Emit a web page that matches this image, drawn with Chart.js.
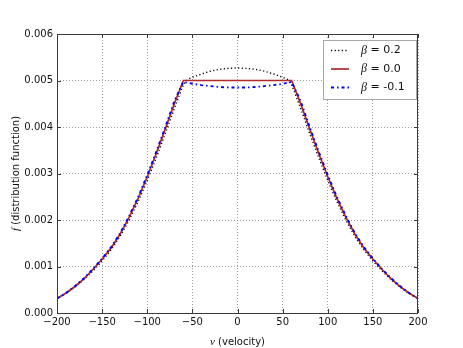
<!DOCTYPE html>
<html><head><meta charset="utf-8">
<script src="https://cdn.jsdelivr.net/npm/chart.js@4/dist/chart.umd.min.js"></script>
<style>html,body{margin:0;padding:0;background:#fff;}canvas{display:block;}</style>
</head><body>
<canvas id="c" width="463" height="348"></canvas>
<script>
// ---- data ----
const velocity = [-200,-190,-180,-170,-160,-150,-140,-130,-120,-110,-100,-90,-80,-70,-60,-55,
  -50,-40,-30,-20,-10,0,10,20,30,40,50,
  55,60,70,80,90,100,110,120,130,140,150,160,170,180,190,200];
const fBeta02 = [0.00031,0.00042,0.00056,0.00072,0.00091,0.00112,0.00136,0.00165,0.00200,0.00240,0.00285,0.00334,0.00386,0.00440,0.00491,0.00503,
  0.00507,0.00514,0.00520,0.00524,0.00526,0.00527,0.00526,0.00524,0.00520,0.00514,0.00507,
  0.00503,0.00491,0.00440,0.00386,0.00334,0.00285,0.00240,0.00200,0.00165,0.00136,0.00112,0.00091,0.00072,0.00056,0.00042,0.00031];
const fBeta00 = [0.00031,0.00043,0.00057,0.00074,0.00094,0.00116,0.00140,0.00170,0.00206,0.00247,0.00293,0.00343,0.00396,0.00450,0.00500,0.00500,
  0.00500,0.00500,0.00500,0.00500,0.00500,0.00500,0.00500,0.00500,0.00500,0.00500,0.00500,
  0.00500,0.00500,0.00450,0.00396,0.00343,0.00293,0.00247,0.00206,0.00170,0.00140,0.00116,0.00094,0.00074,0.00057,0.00043,0.00031];
const fBetaM01 = [0.00031,0.00043,0.00058,0.00075,0.00095,0.00117,0.00142,0.00172,0.00209,0.00250,0.00297,0.00347,0.00400,0.00456,0.00497,0.00495,
  0.00493,0.00490,0.00488,0.00486,0.00485,0.00485,0.00485,0.00486,0.00488,0.00490,0.00493,
  0.00495,0.00497,0.00456,0.00400,0.00347,0.00297,0.00250,0.00209,0.00172,0.00142,0.00117,0.00095,0.00075,0.00058,0.00043,0.00031];
const betaSymbol = 'β';
const betaValues = ['0.2','0.0','-0.1'];
const xTickValues = [-200,-150,-100,-50,0,50,100,150,200];
const yTickValues = [0,0.001,0.002,0.003,0.004,0.005,0.006];
const xTitleVar = 'v', xTitleRest = ' (velocity)';
const yTitleVar = 'f', yTitleRest = ' (distribution function)';

const pts = ys => velocity.map((v,i)=>({x:v,y:ys[i]}));

const framePlugin = {
  id:'frame',
  afterDatasetsDraw(chart){
    const {ctx, chartArea:a, scales:{x,y}} = chart;
    ctx.save();
    ctx.strokeStyle='#3a3a3a'; ctx.lineWidth=1; ctx.setLineDash([]);
    ctx.beginPath();
    x.ticks.forEach(t=>{const p=Math.round(x.getPixelForValue(t.value))+0.5;
      ctx.moveTo(p,a.bottom); ctx.lineTo(p,a.bottom-4); ctx.moveTo(p,a.top); ctx.lineTo(p,a.top+4);});
    y.ticks.forEach(t=>{const p=Math.round(y.getPixelForValue(t.value))+0.5;
      ctx.moveTo(a.left,p); ctx.lineTo(a.left+4,p); ctx.moveTo(a.right,p); ctx.lineTo(a.right-4,p);});
    ctx.stroke();
    ctx.strokeRect(a.left+0.5,a.top+0.5,a.right-a.left-1,a.bottom-a.top);
    ctx.restore();
  },
  afterDraw(chart){
    const {ctx, chartArea:a} = chart;
    ctx.save();
    // legend
    const bx=323.5, by=40.5, bw=93, bh=59;
    ctx.fillStyle='#fff'; ctx.fillRect(bx,by,bw,bh);
    ctx.strokeStyle='#a8a8a8'; ctx.lineWidth=1; ctx.strokeRect(bx,by,bw,bh);
    chart.data.datasets.forEach((ds,i)=>{
      const cy = 50.5 + i*18.5;
      ctx.setLineDash(ds.borderDash||[]);
      ctx.strokeStyle=ds.borderColor; ctx.lineWidth=ds.borderWidth;
      ctx.beginPath(); ctx.moveTo(331,cy); ctx.lineTo(349,cy); ctx.stroke();
      ctx.setLineDash([]);
      ctx.fillStyle='#111'; ctx.textBaseline='middle'; ctx.textAlign='left';
      ctx.font='italic 12px "Liberation Serif"'; ctx.fillText(betaSymbol,361,cy);
      const w=ctx.measureText(betaSymbol).width;
      ctx.font='11px "DejaVu Sans"'; ctx.fillText(' = '+betaValues[i],361+w,cy);
    });
    // x title
    ctx.fillStyle='#111'; ctx.textBaseline='middle'; ctx.textAlign='left';
    ctx.font='italic 11px "Liberation Serif"'; const wv=ctx.measureText(xTitleVar).width;
    ctx.font='10px "DejaVu Sans"'; const wr=ctx.measureText(xTitleRest).width;
    let sx=(a.left+a.right)/2-(wv+wr)/2;
    ctx.font='italic 11px "Liberation Serif"'; ctx.fillText(xTitleVar,sx,342);
    ctx.font='10px "DejaVu Sans"'; ctx.fillText(xTitleRest,sx+wv,342);
    // y title
    ctx.translate(16.5,(a.top+a.bottom)/2); ctx.rotate(-Math.PI/2);
    ctx.font='italic 11px "Liberation Serif"'; const wf=ctx.measureText(yTitleVar).width;
    ctx.font='10px "DejaVu Sans"'; const wr2=ctx.measureText(yTitleRest).width;
    sx=-(wf+wr2)/2;
    ctx.font='italic 11px "Liberation Serif"'; ctx.fillText(yTitleVar,sx,0);
    ctx.font='10px "DejaVu Sans"'; ctx.fillText(yTitleRest,sx+wf,0);
    ctx.restore();
  }
};

const tickFont = {family:'DejaVu Sans', size:10};
new Chart(document.getElementById('c'), {
  type:'line',
  data:{datasets:[
    {label:'β = 0.2', data:pts(fBeta02), borderColor:'#000000', borderWidth:1.4, borderDash:[1.2,2.4], pointRadius:0, fill:false, tension:0, order:3},
    {label:'β = 0.0', data:pts(fBeta00), borderColor:'#b22a2a', borderWidth:1.7, borderDash:[], pointRadius:0, fill:false, tension:0, order:2},
    {label:'β = -0.1', data:pts(fBetaM01), borderColor:'#0000ff', borderWidth:1.8, borderDash:[3,3,1.5,3], pointRadius:0, fill:false, tension:0, order:1}
  ]},
  options:{
    responsive:false, animation:false, devicePixelRatio:1,
    layout:{padding:{left:0,right:45,top:34,bottom:0}},
    plugins:{legend:{display:false}, tooltip:{enabled:false}},
    scales:{
      x:{type:'linear', min:-200, max:200,
        afterBuildTicks(s){ s.ticks = xTickValues.map(v=>({value:v})); },
        afterFit(s){ s.height=35; },
        ticks:{padding:3, color:'#111', font:tickFont, maxRotation:0, autoSkip:false,
          callback:v=>String(v).replace('-','\u2212')},
        grid:{color:'rgba(0,0,0,0.38)', lineWidth:1, drawTicks:false},
        border:{display:false, dash:[1,2]}},
      y:{type:'linear', min:0, max:0.006,
        afterBuildTicks(s){ s.ticks = yTickValues.map(v=>({value:v})); },
        afterFit(s){ s.width=57; },
        ticks:{padding:4, color:'#111', font:tickFont, callback:v=>Number(v).toFixed(3)},
        grid:{color:'rgba(0,0,0,0.38)', lineWidth:1, drawTicks:false},
        border:{display:false, dash:[1,2]}}
    }
  },
  plugins:[framePlugin]
});
</script>
</body></html>
